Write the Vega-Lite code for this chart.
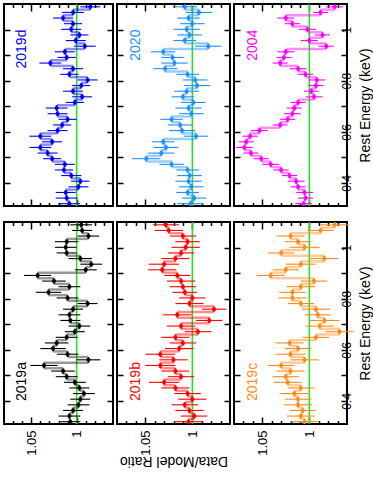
{
"$schema": "https://vega.github.io/schema/vega-lite/v6.json",
"padding": {"left": 2, "top": 2, "right": 0, "bottom": 0},
"config": {"font": "Liberation Sans", "view": {"stroke": "#000", "strokeWidth": 2},
  "axis": {"tickColor": "#000", "tickWidth": 1.5, "labelColor": "#000", "titleColor": "#000", "titleFontWeight": "normal", "domain": false, "grid": false, "labelOverlap": false, "labelFlush": false}},
"datasets": {
"bins": [
{"k":0,"e":1.089,"elo":1.078,"ehi":1.1},{"k":1,"e":1.067,"elo":1.056,"ehi":1.078},{"k":2,"e":1.045,"elo":1.034,"ehi":1.056},{"k":3,"e":1.023,"elo":1.012,"ehi":1.034},
{"k":4,"e":1.001,"elo":0.99,"ehi":1.012},{"k":5,"e":0.979,"elo":0.968,"ehi":0.99},{"k":6,"e":0.957,"elo":0.946,"ehi":0.968},{"k":7,"e":0.935,"elo":0.924,"ehi":0.946},
{"k":8,"e":0.913,"elo":0.902,"ehi":0.924},{"k":9,"e":0.891,"elo":0.88,"ehi":0.902},{"k":10,"e":0.869,"elo":0.858,"ehi":0.88},{"k":11,"e":0.847,"elo":0.836,"ehi":0.858},
{"k":12,"e":0.825,"elo":0.814,"ehi":0.836},{"k":13,"e":0.803,"elo":0.792,"ehi":0.814},{"k":14,"e":0.781,"elo":0.77,"ehi":0.792},{"k":15,"e":0.759,"elo":0.748,"ehi":0.77},
{"k":16,"e":0.737,"elo":0.726,"ehi":0.748},{"k":17,"e":0.715,"elo":0.704,"ehi":0.726},{"k":18,"e":0.693,"elo":0.682,"ehi":0.704},{"k":19,"e":0.671,"elo":0.66,"ehi":0.682},
{"k":20,"e":0.649,"elo":0.638,"ehi":0.66},{"k":21,"e":0.627,"elo":0.616,"ehi":0.638},{"k":22,"e":0.605,"elo":0.594,"ehi":0.616},{"k":23,"e":0.583,"elo":0.572,"ehi":0.594},
{"k":24,"e":0.561,"elo":0.55,"ehi":0.572},{"k":25,"e":0.539,"elo":0.528,"ehi":0.55},{"k":26,"e":0.517,"elo":0.506,"ehi":0.528},{"k":27,"e":0.495,"elo":0.484,"ehi":0.506},
{"k":28,"e":0.473,"elo":0.462,"ehi":0.484},{"k":29,"e":0.451,"elo":0.44,"ehi":0.462},{"k":30,"e":0.429,"elo":0.418,"ehi":0.44},{"k":31,"e":0.407,"elo":0.396,"ehi":0.418},
{"k":32,"e":0.385,"elo":0.374,"ehi":0.396},{"k":33,"e":0.363,"elo":0.352,"ehi":0.374},{"k":34,"e":0.341,"elo":0.33,"ehi":0.352},{"k":35,"e":0.319,"elo":0.308,"ehi":0.33}
],
"vals": [
{"p":"2019d","k":0,"r":0.985,"err":0.011},{"p":"2019d","k":1,"r":1.004,"err":0.012},{"p":"2019d","k":2,"r":1.015,"err":0.011},{"p":"2019d","k":3,"r":1.004,"err":0.01},
{"p":"2019d","k":4,"r":1.006,"err":0.011},{"p":"2019d","k":5,"r":0.997,"err":0.01},{"p":"2019d","k":6,"r":1.001,"err":0.011},{"p":"2019d","k":7,"r":0.991,"err":0.012},
{"p":"2019d","k":8,"r":1.013,"err":0.011},{"p":"2019d","k":9,"r":1.011,"err":0.01},{"p":"2019d","k":10,"r":1.029,"err":0.012},{"p":"2019d","k":11,"r":1.004,"err":0.011},
{"p":"2019d","k":12,"r":1.008,"err":0.01},{"p":"2019d","k":13,"r":0.988,"err":0.011},{"p":"2019d","k":14,"r":0.995,"err":0.01},{"p":"2019d","k":15,"r":1.004,"err":0.011},
{"p":"2019d","k":16,"r":0.994,"err":0.011},{"p":"2019d","k":17,"r":1.002,"err":0.01},{"p":"2019d","k":18,"r":1.022,"err":0.012},{"p":"2019d","k":19,"r":1.021,"err":0.011},
{"p":"2019d","k":20,"r":1.01,"err":0.01},{"p":"2019d","k":21,"r":1.016,"err":0.01},{"p":"2019d","k":22,"r":1.021,"err":0.011},{"p":"2019d","k":23,"r":1.04,"err":0.012},
{"p":"2019d","k":24,"r":1.027,"err":0.011},{"p":"2019d","k":25,"r":1.04,"err":0.012},{"p":"2019d","k":26,"r":1.032,"err":0.011},{"p":"2019d","k":27,"r":1.027,"err":0.01},
{"p":"2019d","k":28,"r":1.013,"err":0.011},{"p":"2019d","k":29,"r":1.014,"err":0.01},{"p":"2019d","k":30,"r":1.006,"err":0.011},{"p":"2019d","k":31,"r":0.996,"err":0.01},
{"p":"2019d","k":32,"r":0.998,"err":0.011},{"p":"2019d","k":33,"r":1.012,"err":0.011},{"p":"2019d","k":34,"r":1.011,"err":0.012},{"p":"2019d","k":35,"r":1.008,"err":0.012},
{"p":"2020","k":0,"r":1.008,"err":0.013},{"p":"2020","k":1,"r":0.993,"err":0.014},{"p":"2020","k":2,"r":1.004,"err":0.012},{"p":"2020","k":3,"r":1.0,"err":0.013},
{"p":"2020","k":4,"r":1.006,"err":0.014},{"p":"2020","k":5,"r":1.003,"err":0.013},{"p":"2020","k":6,"r":1.008,"err":0.012},{"p":"2020","k":7,"r":0.983,"err":0.014},
{"p":"2020","k":8,"r":1.031,"err":0.013},{"p":"2020","k":9,"r":1.021,"err":0.012},{"p":"2020","k":10,"r":1.019,"err":0.014},{"p":"2020","k":11,"r":1.029,"err":0.013},
{"p":"2020","k":12,"r":1.005,"err":0.012},{"p":"2020","k":13,"r":0.997,"err":0.013},{"p":"2020","k":14,"r":0.995,"err":0.014},{"p":"2020","k":15,"r":1.006,"err":0.013},
{"p":"2020","k":16,"r":1.01,"err":0.012},{"p":"2020","k":17,"r":0.999,"err":0.013},{"p":"2020","k":18,"r":1.004,"err":0.014},{"p":"2020","k":19,"r":1.001,"err":0.013},
{"p":"2020","k":20,"r":1.022,"err":0.012},{"p":"2020","k":21,"r":1.013,"err":0.013},{"p":"2020","k":22,"r":1.011,"err":0.014},{"p":"2020","k":23,"r":0.996,"err":0.013},
{"p":"2020","k":24,"r":1.031,"err":0.012},{"p":"2020","k":25,"r":1.028,"err":0.013},{"p":"2020","k":26,"r":1.033,"err":0.014},{"p":"2020","k":27,"r":1.049,"err":0.015},
{"p":"2020","k":28,"r":1.022,"err":0.013},{"p":"2020","k":29,"r":1.005,"err":0.012},{"p":"2020","k":30,"r":1.003,"err":0.013},{"p":"2020","k":31,"r":1.004,"err":0.014},
{"p":"2020","k":32,"r":1.001,"err":0.013},{"p":"2020","k":33,"r":1.005,"err":0.012},{"p":"2020","k":34,"r":0.998,"err":0.013},{"p":"2020","k":35,"r":1.002,"err":0.014},
{"p":"2004","k":0,"r":0.973,"err":0.009},{"p":"2004","k":1,"r":0.988,"err":0.008},{"p":"2004","k":2,"r":1.025,"err":0.009},{"p":"2004","k":3,"r":1.018,"err":0.008},
{"p":"2004","k":4,"r":1.002,"err":0.009},{"p":"2004","k":5,"r":0.986,"err":0.008},{"p":"2004","k":6,"r":1.0,"err":0.009},{"p":"2004","k":7,"r":0.982,"err":0.008},
{"p":"2004","k":8,"r":1.025,"err":0.009},{"p":"2004","k":9,"r":1.027,"err":0.008},{"p":"2004","k":10,"r":1.031,"err":0.008},{"p":"2004","k":11,"r":1.012,"err":0.009},
{"p":"2004","k":12,"r":1.004,"err":0.008},{"p":"2004","k":13,"r":0.992,"err":0.009},{"p":"2004","k":14,"r":0.993,"err":0.008},{"p":"2004","k":15,"r":0.998,"err":0.008},
{"p":"2004","k":16,"r":0.995,"err":0.009},{"p":"2004","k":17,"r":1.012,"err":0.008},{"p":"2004","k":18,"r":1.016,"err":0.008},{"p":"2004","k":19,"r":1.018,"err":0.009},
{"p":"2004","k":20,"r":1.023,"err":0.008},{"p":"2004","k":21,"r":1.031,"err":0.008},{"p":"2004","k":22,"r":1.053,"err":0.009},{"p":"2004","k":23,"r":1.063,"err":0.008},
{"p":"2004","k":24,"r":1.067,"err":0.008},{"p":"2004","k":25,"r":1.069,"err":0.009},{"p":"2004","k":26,"r":1.062,"err":0.008},{"p":"2004","k":27,"r":1.051,"err":0.008},
{"p":"2004","k":28,"r":1.041,"err":0.009},{"p":"2004","k":29,"r":1.03,"err":0.008},{"p":"2004","k":30,"r":1.021,"err":0.008},{"p":"2004","k":31,"r":1.014,"err":0.009},
{"p":"2004","k":32,"r":1.012,"err":0.008},{"p":"2004","k":33,"r":1.005,"err":0.009},{"p":"2004","k":34,"r":1.004,"err":0.008},{"p":"2004","k":35,"r":1.006,"err":0.009},
{"p":"2019a","k":0,"r":0.995,"err":0.012},{"p":"2019a","k":1,"r":0.994,"err":0.011},{"p":"2019a","k":2,"r":0.987,"err":0.012},{"p":"2019a","k":3,"r":1.011,"err":0.013},
{"p":"2019a","k":4,"r":1.012,"err":0.012},{"p":"2019a","k":5,"r":1.011,"err":0.011},{"p":"2019a","k":6,"r":0.996,"err":0.013},{"p":"2019a","k":7,"r":0.984,"err":0.012},
{"p":"2019a","k":8,"r":0.99,"err":0.012},{"p":"2019a","k":9,"r":1.043,"err":0.015},{"p":"2019a","k":10,"r":1.025,"err":0.013},{"p":"2019a","k":11,"r":1.008,"err":0.012},
{"p":"2019a","k":12,"r":1.031,"err":0.014},{"p":"2019a","k":13,"r":1.01,"err":0.012},{"p":"2019a","k":14,"r":0.988,"err":0.011},{"p":"2019a","k":15,"r":1.004,"err":0.011},
{"p":"2019a","k":16,"r":1.008,"err":0.012},{"p":"2019a","k":17,"r":1.007,"err":0.011},{"p":"2019a","k":18,"r":0.997,"err":0.012},{"p":"2019a","k":19,"r":1.002,"err":0.011},
{"p":"2019a","k":20,"r":1.011,"err":0.012},{"p":"2019a","k":21,"r":1.022,"err":0.013},{"p":"2019a","k":22,"r":1.026,"err":0.014},{"p":"2019a","k":23,"r":1.01,"err":0.012},
{"p":"2019a","k":24,"r":0.987,"err":0.013},{"p":"2019a","k":25,"r":1.036,"err":0.015},{"p":"2019a","k":26,"r":1.015,"err":0.013},{"p":"2019a","k":27,"r":1.011,"err":0.012},
{"p":"2019a","k":28,"r":1.002,"err":0.012},{"p":"2019a","k":29,"r":0.997,"err":0.011},{"p":"2019a","k":30,"r":0.992,"err":0.012},{"p":"2019a","k":31,"r":0.996,"err":0.011},
{"p":"2019a","k":32,"r":0.998,"err":0.012},{"p":"2019a","k":33,"r":1.004,"err":0.011},{"p":"2019a","k":34,"r":1.008,"err":0.012},{"p":"2019a","k":35,"r":1.007,"err":0.011},
{"p":"2019b","k":0,"r":1.028,"err":0.014},{"p":"2019b","k":1,"r":1.025,"err":0.015},{"p":"2019b","k":2,"r":1.01,"err":0.014},{"p":"2019b","k":3,"r":1.005,"err":0.013},
{"p":"2019b","k":4,"r":1.007,"err":0.015},{"p":"2019b","k":5,"r":1.012,"err":0.014},{"p":"2019b","k":6,"r":1.018,"err":0.015},{"p":"2019b","k":7,"r":1.03,"err":0.016},
{"p":"2019b","k":8,"r":1.032,"err":0.015},{"p":"2019b","k":9,"r":1.016,"err":0.014},{"p":"2019b","k":10,"r":1.012,"err":0.015},{"p":"2019b","k":11,"r":1.01,"err":0.014},
{"p":"2019b","k":12,"r":1.008,"err":0.013},{"p":"2019b","k":13,"r":1.0,"err":0.014},{"p":"2019b","k":14,"r":1.003,"err":0.015},{"p":"2019b","k":15,"r":0.977,"err":0.013},
{"p":"2019b","k":16,"r":1.016,"err":0.015},{"p":"2019b","k":17,"r":0.982,"err":0.014},{"p":"2019b","k":18,"r":1.012,"err":0.015},{"p":"2019b","k":19,"r":0.994,"err":0.014},
{"p":"2019b","k":20,"r":1.018,"err":0.015},{"p":"2019b","k":21,"r":1.01,"err":0.014},{"p":"2019b","k":22,"r":1.014,"err":0.015},{"p":"2019b","k":23,"r":1.034,"err":0.016},
{"p":"2019b","k":24,"r":1.02,"err":0.015},{"p":"2019b","k":25,"r":1.034,"err":0.016},{"p":"2019b","k":26,"r":1.018,"err":0.015},{"p":"2019b","k":27,"r":1.012,"err":0.014},
{"p":"2019b","k":28,"r":1.03,"err":0.016},{"p":"2019b","k":29,"r":1.018,"err":0.015},{"p":"2019b","k":30,"r":1.005,"err":0.014},{"p":"2019b","k":31,"r":1.0,"err":0.015},
{"p":"2019b","k":32,"r":1.008,"err":0.014},{"p":"2019b","k":33,"r":1.003,"err":0.015},{"p":"2019b","k":34,"r":0.998,"err":0.014},{"p":"2019b","k":35,"r":1.004,"err":0.015},
{"p":"2019c","k":0,"r":0.973,"err":0.015},{"p":"2019c","k":1,"r":0.988,"err":0.014},{"p":"2019c","k":2,"r":1.02,"err":0.015},{"p":"2019c","k":3,"r":1.012,"err":0.014},
{"p":"2019c","k":4,"r":1.005,"err":0.016},{"p":"2019c","k":5,"r":1.03,"err":0.014},{"p":"2019c","k":6,"r":0.984,"err":0.015},{"p":"2019c","k":7,"r":1.009,"err":0.016},
{"p":"2019c","k":8,"r":1.025,"err":0.014},{"p":"2019c","k":9,"r":1.041,"err":0.015},{"p":"2019c","k":10,"r":0.995,"err":0.014},{"p":"2019c","k":11,"r":1.009,"err":0.015},
{"p":"2019c","k":12,"r":1.018,"err":0.014},{"p":"2019c","k":13,"r":1.018,"err":0.015},{"p":"2019c","k":14,"r":1.009,"err":0.014},{"p":"2019c","k":15,"r":0.993,"err":0.015},
{"p":"2019c","k":16,"r":0.991,"err":0.014},{"p":"2019c","k":17,"r":0.984,"err":0.016},{"p":"2019c","k":18,"r":0.989,"err":0.015},{"p":"2019c","k":19,"r":0.968,"err":0.015},
{"p":"2019c","k":20,"r":0.993,"err":0.014},{"p":"2019c","k":21,"r":1.021,"err":0.015},{"p":"2019c","k":22,"r":1.012,"err":0.014},{"p":"2019c","k":23,"r":1.02,"err":0.016},
{"p":"2019c","k":24,"r":1.005,"err":0.015},{"p":"2019c","k":25,"r":1.03,"err":0.014},{"p":"2019c","k":26,"r":1.02,"err":0.015},{"p":"2019c","k":27,"r":1.025,"err":0.014},
{"p":"2019c","k":28,"r":1.023,"err":0.015},{"p":"2019c","k":29,"r":1.009,"err":0.014},{"p":"2019c","k":30,"r":1.016,"err":0.015},{"p":"2019c","k":31,"r":1.012,"err":0.014},
{"p":"2019c","k":32,"r":1.012,"err":0.015},{"p":"2019c","k":33,"r":1.007,"err":0.014},{"p":"2019c","k":34,"r":1.009,"err":0.015},{"p":"2019c","k":35,"r":1.005,"err":0.014}
]
},
"data": {"name": "vals"},
"spacing": 12,
"vconcat": [
{"spacing": 0, "hconcat": [
{"width": 109, "height": 202,
 "transform": [{"filter": "datum.p == '2019d'"}, {"lookup": "k", "from": {"data": {"name": "bins"}, "key": "k", "fields": ["e", "elo", "ehi"]}}],
 "layer": [
  {"transform": [{"filter": "datum.k == 0"}], "mark": {"type": "rule", "color": "#18e818", "strokeWidth": 1.5},
   "encoding": {"x": {"datum": 1, "type": "quantitative", "scale": {"domain": [0.96, 1.08], "reverse": true, "nice": false, "zero": false}, "axis": {"orient": "bottom", "values": [1, 1.05], "tickSize": -7, "labels": false, "title": null}}}},
  {"mark": {"type": "rule", "color": "#0000ee", "opacity": 0.45, "strokeWidth": 2.5, "clip": true},
   "encoding": {"x": {"field": "r", "type": "quantitative", "axis": {"orient": "bottom", "values": [0.97, 0.98, 0.99, 1.01, 1.02, 1.03, 1.04, 1.06, 1.07], "tickSize": -3.5, "labels": false, "title": null}},
    "y": {"field": "elo", "type": "quantitative", "scale": {"domain": [0.31, 1.1], "nice": false, "zero": false}, "axis": {"orient": "left", "values": [0.4, 0.5, 0.6, 0.7, 0.8, 0.9, 1], "tickSize": -6, "labels": false, "title": null}}, "y2": {"field": "ehi"}}},
  {"transform": [{"window": [{"op": "lead", "field": "r", "as": "rn"}], "sort": [{"field": "k", "order": "ascending"}]}, {"filter": "datum.rn != null"}],
   "mark": {"type": "rule", "color": "#0000ee", "opacity": 0.45, "strokeWidth": 2.5, "clip": true},
   "encoding": {"x": {"field": "r", "type": "quantitative", "axis": null}, "x2": {"field": "rn"}, "y": {"field": "elo", "type": "quantitative", "axis": null}}},
  {"mark": {"type": "rule", "color": "#0000ee", "strokeWidth": 1, "clip": true},
   "encoding": {"x": {"field": "r", "type": "quantitative", "axis": {"orient": "top", "values": [1, 1.05], "tickSize": -7, "labels": false, "title": null}},
    "y": {"field": "elo", "type": "quantitative", "axis": {"orient": "right", "values": [0.4, 0.5, 0.6, 0.7, 0.8, 0.9, 1], "tickSize": -6, "labels": false, "title": null}}, "y2": {"field": "ehi"}}},
  {"mark": {"type": "errorbar", "color": "#0000ee", "thickness": 1.1},
   "encoding": {"x": {"field": "r", "type": "quantitative", "axis": {"orient": "top", "values": [0.97, 0.98, 0.99, 1.01, 1.02, 1.03, 1.04, 1.06, 1.07], "tickSize": -3.5, "labels": false, "title": null}}, "xError": {"field": "err"},
    "y": {"field": "e", "type": "quantitative", "axis": null}}},
  {"mark": {"type": "circle", "color": "#0000ee", "opacity": 1, "size": 17, "clip": true},
   "encoding": {"x": {"field": "r", "type": "quantitative", "axis": null}, "y": {"field": "e", "type": "quantitative", "axis": null}}},
  {"transform": [{"filter": "datum.k == 0"}], "mark": {"type": "text", "color": "#0000ee", "angle": 270, "align": "right", "baseline": "middle", "fontSize": 14},
   "encoding": {"x": {"datum": 1.06, "type": "quantitative", "axis": null}, "y": {"datum": 1.0, "type": "quantitative", "axis": null}, "text": {"value": "2019d"}}}
 ],
 "resolve": {"axis": {"x": "independent", "y": "independent"}}},
{"width": 113, "height": 202,
 "transform": [{"filter": "datum.p == '2020'"}, {"lookup": "k", "from": {"data": {"name": "bins"}, "key": "k", "fields": ["e", "elo", "ehi"]}}],
 "layer": [
  {"transform": [{"filter": "datum.k == 0"}], "mark": {"type": "rule", "color": "#18e818", "strokeWidth": 1.5},
   "encoding": {"x": {"datum": 1, "type": "quantitative", "scale": {"domain": [0.96, 1.08], "reverse": true, "nice": false, "zero": false}, "axis": {"orient": "bottom", "values": [1, 1.05], "tickSize": -7, "labels": false, "title": null}}}},
  {"mark": {"type": "rule", "color": "#1e90ff", "opacity": 0.45, "strokeWidth": 2.5, "clip": true},
   "encoding": {"x": {"field": "r", "type": "quantitative", "axis": {"orient": "bottom", "values": [0.97, 0.98, 0.99, 1.01, 1.02, 1.03, 1.04, 1.06, 1.07], "tickSize": -3.5, "labels": false, "title": null}},
    "y": {"field": "elo", "type": "quantitative", "scale": {"domain": [0.31, 1.1], "nice": false, "zero": false}, "axis": {"orient": "left", "values": [0.4, 0.5, 0.6, 0.7, 0.8, 0.9, 1], "tickSize": -6, "labels": false, "title": null}}, "y2": {"field": "ehi"}}},
  {"transform": [{"window": [{"op": "lead", "field": "r", "as": "rn"}], "sort": [{"field": "k", "order": "ascending"}]}, {"filter": "datum.rn != null"}],
   "mark": {"type": "rule", "color": "#1e90ff", "opacity": 0.45, "strokeWidth": 2.5, "clip": true},
   "encoding": {"x": {"field": "r", "type": "quantitative", "axis": null}, "x2": {"field": "rn"}, "y": {"field": "elo", "type": "quantitative", "axis": null}}},
  {"mark": {"type": "rule", "color": "#1e90ff", "strokeWidth": 1, "clip": true},
   "encoding": {"x": {"field": "r", "type": "quantitative", "axis": {"orient": "top", "values": [1, 1.05], "tickSize": -7, "labels": false, "title": null}},
    "y": {"field": "elo", "type": "quantitative", "axis": {"orient": "right", "values": [0.4, 0.5, 0.6, 0.7, 0.8, 0.9, 1], "tickSize": -6, "labels": false, "title": null}}, "y2": {"field": "ehi"}}},
  {"mark": {"type": "errorbar", "color": "#1e90ff", "thickness": 1.1},
   "encoding": {"x": {"field": "r", "type": "quantitative", "axis": {"orient": "top", "values": [0.97, 0.98, 0.99, 1.01, 1.02, 1.03, 1.04, 1.06, 1.07], "tickSize": -3.5, "labels": false, "title": null}}, "xError": {"field": "err"},
    "y": {"field": "e", "type": "quantitative", "axis": null}}},
  {"mark": {"type": "circle", "color": "#1e90ff", "opacity": 1, "size": 17, "clip": true},
   "encoding": {"x": {"field": "r", "type": "quantitative", "axis": null}, "y": {"field": "e", "type": "quantitative", "axis": null}}},
  {"transform": [{"filter": "datum.k == 0"}], "mark": {"type": "text", "color": "#1e90ff", "angle": 270, "align": "right", "baseline": "middle", "fontSize": 14},
   "encoding": {"x": {"datum": 1.06, "type": "quantitative", "axis": null}, "y": {"datum": 1.0, "type": "quantitative", "axis": null}, "text": {"value": "2020"}}}
 ],
 "resolve": {"axis": {"x": "independent", "y": "independent"}}},
{"width": 113, "height": 202,
 "transform": [{"filter": "datum.p == '2004'"}, {"lookup": "k", "from": {"data": {"name": "bins"}, "key": "k", "fields": ["e", "elo", "ehi"]}}],
 "layer": [
  {"transform": [{"filter": "datum.k == 0"}], "mark": {"type": "rule", "color": "#18e818", "strokeWidth": 1.5},
   "encoding": {"x": {"datum": 1, "type": "quantitative", "scale": {"domain": [0.96, 1.08], "reverse": true, "nice": false, "zero": false}, "axis": {"orient": "bottom", "values": [1, 1.05], "tickSize": -7, "labels": false, "title": null}}}},
  {"mark": {"type": "rule", "color": "#ff00ff", "opacity": 0.45, "strokeWidth": 2.5, "clip": true},
   "encoding": {"x": {"field": "r", "type": "quantitative", "axis": {"orient": "bottom", "values": [0.97, 0.98, 0.99, 1.01, 1.02, 1.03, 1.04, 1.06, 1.07], "tickSize": -3.5, "labels": false, "title": null}},
    "y": {"field": "elo", "type": "quantitative", "scale": {"domain": [0.31, 1.1], "nice": false, "zero": false}, "axis": {"orient": "left", "values": [0.4, 0.5, 0.6, 0.7, 0.8, 0.9, 1], "tickSize": -6, "labels": false, "title": null}}, "y2": {"field": "ehi"}}},
  {"transform": [{"window": [{"op": "lead", "field": "r", "as": "rn"}], "sort": [{"field": "k", "order": "ascending"}]}, {"filter": "datum.rn != null"}],
   "mark": {"type": "rule", "color": "#ff00ff", "opacity": 0.45, "strokeWidth": 2.5, "clip": true},
   "encoding": {"x": {"field": "r", "type": "quantitative", "axis": null}, "x2": {"field": "rn"}, "y": {"field": "elo", "type": "quantitative", "axis": null}}},
  {"mark": {"type": "rule", "color": "#ff00ff", "strokeWidth": 1, "clip": true},
   "encoding": {"x": {"field": "r", "type": "quantitative", "axis": {"orient": "top", "values": [1, 1.05], "tickSize": -7, "labels": false, "title": null}},
    "y": {"field": "elo", "type": "quantitative", "axis": {"orient": "right", "values": [0.4, 0.5, 0.6, 0.7, 0.8, 0.9, 1], "tickSize": -6, "format": "~g", "labelExpr": "datum.value == 0.5 || datum.value == 0.7 || datum.value == 0.9 ? '' : datum.label", "labelAngle": 270, "labelAlign": "center", "labelBaseline": "middle", "labelPadding": 5, "labelFontSize": 12, "title": "Rest Energy (keV)", "titleAngle": 270, "titleBaseline": "top", "titleFontSize": 14, "titlePadding": 6}}, "y2": {"field": "ehi"}}},
  {"mark": {"type": "errorbar", "color": "#ff00ff", "thickness": 1.1},
   "encoding": {"x": {"field": "r", "type": "quantitative", "axis": {"orient": "top", "values": [0.97, 0.98, 0.99, 1.01, 1.02, 1.03, 1.04, 1.06, 1.07], "tickSize": -3.5, "labels": false, "title": null}}, "xError": {"field": "err"},
    "y": {"field": "e", "type": "quantitative", "axis": null}}},
  {"mark": {"type": "circle", "color": "#ff00ff", "opacity": 1, "size": 17, "clip": true},
   "encoding": {"x": {"field": "r", "type": "quantitative", "axis": null}, "y": {"field": "e", "type": "quantitative", "axis": null}}},
  {"transform": [{"filter": "datum.k == 0"}], "mark": {"type": "text", "color": "#ff00ff", "angle": 270, "align": "right", "baseline": "middle", "fontSize": 14},
   "encoding": {"x": {"datum": 1.06, "type": "quantitative", "axis": null}, "y": {"datum": 1.0, "type": "quantitative", "axis": null}, "text": {"value": "2004"}}}
 ],
 "resolve": {"axis": {"x": "independent", "y": "independent"}}}
]},
{"spacing": 0, "hconcat": [
{"width": 109, "height": 202,
 "transform": [{"filter": "datum.p == '2019a'"}, {"lookup": "k", "from": {"data": {"name": "bins"}, "key": "k", "fields": ["e", "elo", "ehi"]}}],
 "layer": [
  {"transform": [{"filter": "datum.k == 0"}], "mark": {"type": "rule", "color": "#18e818", "strokeWidth": 1.5},
   "encoding": {"x": {"datum": 1, "type": "quantitative", "scale": {"domain": [0.96, 1.08], "reverse": true, "nice": false, "zero": false}, "axis": {"orient": "bottom", "values": [1, 1.05], "tickSize": -7, "format": "~g", "labelAngle": 270, "labelAlign": "right", "labelBaseline": "middle", "labelPadding": 13, "labelFontSize": 13, "title": null}}}},
  {"mark": {"type": "rule", "color": "#000000", "opacity": 0.4, "strokeWidth": 2.5, "clip": true},
   "encoding": {"x": {"field": "r", "type": "quantitative", "axis": {"orient": "bottom", "values": [0.97, 0.98, 0.99, 1.01, 1.02, 1.03, 1.04, 1.06, 1.07], "tickSize": -3.5, "labels": false, "title": null}},
    "y": {"field": "elo", "type": "quantitative", "scale": {"domain": [0.31, 1.1], "nice": false, "zero": false}, "axis": {"orient": "left", "values": [0.4, 0.5, 0.6, 0.7, 0.8, 0.9, 1], "tickSize": -6, "labels": false, "title": null}}, "y2": {"field": "ehi"}}},
  {"transform": [{"window": [{"op": "lead", "field": "r", "as": "rn"}], "sort": [{"field": "k", "order": "ascending"}]}, {"filter": "datum.rn != null"}],
   "mark": {"type": "rule", "color": "#000000", "opacity": 0.4, "strokeWidth": 2.5, "clip": true},
   "encoding": {"x": {"field": "r", "type": "quantitative", "axis": null}, "x2": {"field": "rn"}, "y": {"field": "elo", "type": "quantitative", "axis": null}}},
  {"mark": {"type": "rule", "color": "#000000", "strokeWidth": 1, "clip": true},
   "encoding": {"x": {"field": "r", "type": "quantitative", "axis": {"orient": "top", "values": [1, 1.05], "tickSize": -7, "labels": false, "title": null}},
    "y": {"field": "elo", "type": "quantitative", "axis": {"orient": "right", "values": [0.4, 0.5, 0.6, 0.7, 0.8, 0.9, 1], "tickSize": -6, "labels": false, "title": null}}, "y2": {"field": "ehi"}}},
  {"mark": {"type": "errorbar", "color": "#000000", "thickness": 1.1},
   "encoding": {"x": {"field": "r", "type": "quantitative", "axis": {"orient": "top", "values": [0.97, 0.98, 0.99, 1.01, 1.02, 1.03, 1.04, 1.06, 1.07], "tickSize": -3.5, "labels": false, "title": null}}, "xError": {"field": "err"},
    "y": {"field": "e", "type": "quantitative", "axis": null}}},
  {"mark": {"type": "circle", "color": "#000000", "opacity": 1, "size": 17, "clip": true},
   "encoding": {"x": {"field": "r", "type": "quantitative", "axis": null}, "y": {"field": "e", "type": "quantitative", "axis": null}}},
  {"transform": [{"filter": "datum.k == 0"}], "mark": {"type": "text", "color": "#000000", "angle": 270, "align": "left", "baseline": "middle", "fontSize": 14},
   "encoding": {"x": {"datum": 1.06, "type": "quantitative", "axis": null}, "y": {"datum": 0.4, "type": "quantitative", "axis": null}, "text": {"value": "2019a"}}}
 ],
 "resolve": {"axis": {"x": "independent", "y": "independent"}}},
{"width": 113, "height": 202,
 "transform": [{"filter": "datum.p == '2019b'"}, {"lookup": "k", "from": {"data": {"name": "bins"}, "key": "k", "fields": ["e", "elo", "ehi"]}}],
 "layer": [
  {"transform": [{"filter": "datum.k == 0"}], "mark": {"type": "rule", "color": "#18e818", "strokeWidth": 1.5},
   "encoding": {"x": {"datum": 1, "type": "quantitative", "scale": {"domain": [0.96, 1.08], "reverse": true, "nice": false, "zero": false}, "axis": {"orient": "bottom", "values": [1, 1.05], "tickSize": -7, "format": "~g", "labelAngle": 270, "labelAlign": "right", "labelBaseline": "middle", "labelPadding": 13, "labelFontSize": 13, "title": "Data/Model Ratio", "titleAngle": 180, "titleBaseline": "bottom", "titleFontSize": 14, "titlePadding": -2}}}},
  {"mark": {"type": "rule", "color": "#ff0000", "opacity": 0.45, "strokeWidth": 2.5, "clip": true},
   "encoding": {"x": {"field": "r", "type": "quantitative", "axis": {"orient": "bottom", "values": [0.97, 0.98, 0.99, 1.01, 1.02, 1.03, 1.04, 1.06, 1.07], "tickSize": -3.5, "labels": false, "title": null}},
    "y": {"field": "elo", "type": "quantitative", "scale": {"domain": [0.31, 1.1], "nice": false, "zero": false}, "axis": {"orient": "left", "values": [0.4, 0.5, 0.6, 0.7, 0.8, 0.9, 1], "tickSize": -6, "labels": false, "title": null}}, "y2": {"field": "ehi"}}},
  {"transform": [{"window": [{"op": "lead", "field": "r", "as": "rn"}], "sort": [{"field": "k", "order": "ascending"}]}, {"filter": "datum.rn != null"}],
   "mark": {"type": "rule", "color": "#ff0000", "opacity": 0.45, "strokeWidth": 2.5, "clip": true},
   "encoding": {"x": {"field": "r", "type": "quantitative", "axis": null}, "x2": {"field": "rn"}, "y": {"field": "elo", "type": "quantitative", "axis": null}}},
  {"mark": {"type": "rule", "color": "#ff0000", "strokeWidth": 1, "clip": true},
   "encoding": {"x": {"field": "r", "type": "quantitative", "axis": {"orient": "top", "values": [1, 1.05], "tickSize": -7, "labels": false, "title": null}},
    "y": {"field": "elo", "type": "quantitative", "axis": {"orient": "right", "values": [0.4, 0.5, 0.6, 0.7, 0.8, 0.9, 1], "tickSize": -6, "labels": false, "title": null}}, "y2": {"field": "ehi"}}},
  {"mark": {"type": "errorbar", "color": "#ff0000", "thickness": 1.1},
   "encoding": {"x": {"field": "r", "type": "quantitative", "axis": {"orient": "top", "values": [0.97, 0.98, 0.99, 1.01, 1.02, 1.03, 1.04, 1.06, 1.07], "tickSize": -3.5, "labels": false, "title": null}}, "xError": {"field": "err"},
    "y": {"field": "e", "type": "quantitative", "axis": null}}},
  {"mark": {"type": "circle", "color": "#ff0000", "opacity": 1, "size": 17, "clip": true},
   "encoding": {"x": {"field": "r", "type": "quantitative", "axis": null}, "y": {"field": "e", "type": "quantitative", "axis": null}}},
  {"transform": [{"filter": "datum.k == 0"}], "mark": {"type": "text", "color": "#ff0000", "angle": 270, "align": "left", "baseline": "middle", "fontSize": 14},
   "encoding": {"x": {"datum": 1.06, "type": "quantitative", "axis": null}, "y": {"datum": 0.4, "type": "quantitative", "axis": null}, "text": {"value": "2019b"}}}
 ],
 "resolve": {"axis": {"x": "independent", "y": "independent"}}},
{"width": 113, "height": 202,
 "transform": [{"filter": "datum.p == '2019c'"}, {"lookup": "k", "from": {"data": {"name": "bins"}, "key": "k", "fields": ["e", "elo", "ehi"]}}],
 "layer": [
  {"transform": [{"filter": "datum.k == 0"}], "mark": {"type": "rule", "color": "#18e818", "strokeWidth": 1.5},
   "encoding": {"x": {"datum": 1, "type": "quantitative", "scale": {"domain": [0.96, 1.08], "reverse": true, "nice": false, "zero": false}, "axis": {"orient": "bottom", "values": [1, 1.05], "tickSize": -7, "format": "~g", "labelAngle": 270, "labelAlign": "right", "labelBaseline": "middle", "labelPadding": 13, "labelFontSize": 13, "title": null}}}},
  {"mark": {"type": "rule", "color": "#ff8c1a", "opacity": 0.45, "strokeWidth": 2.5, "clip": true},
   "encoding": {"x": {"field": "r", "type": "quantitative", "axis": {"orient": "bottom", "values": [0.97, 0.98, 0.99, 1.01, 1.02, 1.03, 1.04, 1.06, 1.07], "tickSize": -3.5, "labels": false, "title": null}},
    "y": {"field": "elo", "type": "quantitative", "scale": {"domain": [0.31, 1.1], "nice": false, "zero": false}, "axis": {"orient": "left", "values": [0.4, 0.5, 0.6, 0.7, 0.8, 0.9, 1], "tickSize": -6, "labels": false, "title": null}}, "y2": {"field": "ehi"}}},
  {"transform": [{"window": [{"op": "lead", "field": "r", "as": "rn"}], "sort": [{"field": "k", "order": "ascending"}]}, {"filter": "datum.rn != null"}],
   "mark": {"type": "rule", "color": "#ff8c1a", "opacity": 0.45, "strokeWidth": 2.5, "clip": true},
   "encoding": {"x": {"field": "r", "type": "quantitative", "axis": null}, "x2": {"field": "rn"}, "y": {"field": "elo", "type": "quantitative", "axis": null}}},
  {"mark": {"type": "rule", "color": "#ff8c1a", "strokeWidth": 1, "clip": true},
   "encoding": {"x": {"field": "r", "type": "quantitative", "axis": {"orient": "top", "values": [1, 1.05], "tickSize": -7, "labels": false, "title": null}},
    "y": {"field": "elo", "type": "quantitative", "axis": {"orient": "right", "values": [0.4, 0.5, 0.6, 0.7, 0.8, 0.9, 1], "tickSize": -6, "format": "~g", "labelExpr": "datum.value == 0.5 || datum.value == 0.7 || datum.value == 0.9 ? '' : datum.label", "labelAngle": 270, "labelAlign": "center", "labelBaseline": "middle", "labelPadding": 5, "labelFontSize": 12, "title": "Rest Energy (keV)", "titleAngle": 270, "titleBaseline": "top", "titleFontSize": 14, "titlePadding": 6}}, "y2": {"field": "ehi"}}},
  {"mark": {"type": "errorbar", "color": "#ff8c1a", "thickness": 1.1},
   "encoding": {"x": {"field": "r", "type": "quantitative", "axis": {"orient": "top", "values": [0.97, 0.98, 0.99, 1.01, 1.02, 1.03, 1.04, 1.06, 1.07], "tickSize": -3.5, "labels": false, "title": null}}, "xError": {"field": "err"},
    "y": {"field": "e", "type": "quantitative", "axis": null}}},
  {"mark": {"type": "circle", "color": "#ff8c1a", "opacity": 1, "size": 17, "clip": true},
   "encoding": {"x": {"field": "r", "type": "quantitative", "axis": null}, "y": {"field": "e", "type": "quantitative", "axis": null}}},
  {"transform": [{"filter": "datum.k == 0"}], "mark": {"type": "text", "color": "#ff8c1a", "angle": 270, "align": "left", "baseline": "middle", "fontSize": 14},
   "encoding": {"x": {"datum": 1.06, "type": "quantitative", "axis": null}, "y": {"datum": 0.4, "type": "quantitative", "axis": null}, "text": {"value": "2019c"}}}
 ],
 "resolve": {"axis": {"x": "independent", "y": "independent"}}}
]}
]
}
